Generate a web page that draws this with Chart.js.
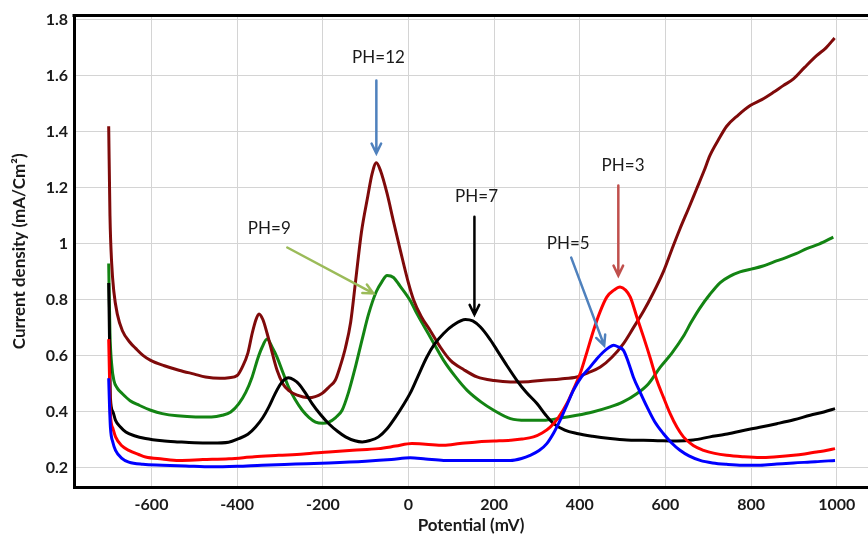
<!DOCTYPE html>
<html>
<head>
<meta charset="utf-8">
<script src="https://cdn.jsdelivr.net/npm/chart.js@4.4.1/dist/chart.umd.min.js"></script>
<style>
  html, body { margin: 0; padding: 0; background: #fff; }
  #wrap { width: 868px; height: 540px; }
</style>
</head>
<body>
<div id="wrap"><canvas id="chart"></canvas></div>
<script>
// Potential (mV) vs current density (mA/cm2)
const ph12X = [-700, -697, -693, -688, -680, -668, -650, -637, -620, -602, -570, -536, -500, -474, -440, -419, -400, -388, -375, -365, -356, -349, -340, -330, -318, -307, -293, -280, -260, -233, -202, -185, -171, -160, -147, -135, -124, -110, -95, -85, -75, -65, -50, -35, -19, 0, 12, 30, 51, 75, 98, 130, 160, 200, 238, 280, 315, 355, 393, 420, 448, 475, 502, 525, 549, 570, 595, 615, 634, 655, 673, 690, 704, 725, 743, 770, 798, 825, 852, 875, 899, 925, 953, 975, 995];
const ph12Y = [1.42, 1.1, 0.93, 0.83, 0.75, 0.69, 0.648, 0.627, 0.602, 0.584, 0.565, 0.549, 0.535, 0.525, 0.52, 0.522, 0.53, 0.56, 0.61, 0.68, 0.73, 0.75, 0.73, 0.68, 0.61, 0.55, 0.5, 0.477, 0.46, 0.451, 0.466, 0.49, 0.513, 0.56, 0.63, 0.72, 0.86, 1.04, 1.17, 1.25, 1.29, 1.26, 1.18, 1.08, 0.977, 0.86, 0.8, 0.74, 0.69, 0.63, 0.584, 0.55, 0.525, 0.512, 0.507, 0.508, 0.513, 0.518, 0.525, 0.54, 0.56, 0.595, 0.644, 0.7, 0.76, 0.82, 0.9, 0.98, 1.054, 1.13, 1.197, 1.26, 1.316, 1.375, 1.42, 1.46, 1.494, 1.515, 1.541, 1.565, 1.589, 1.63, 1.672, 1.7, 1.735];

const ph9X = [-700, -697, -693, -688, -680, -668, -650, -629, -600, -575, -540, -497, -460, -435, -415, -396, -380, -365, -352, -342, -330, -318, -307, -293, -280, -265, -248, -232, -217, -200, -186, -170, -155, -140, -124, -108, -93, -75, -62, -50, -35, -20, 4, 20, 51, 82, 110, 137, 170, 199, 238, 275, 315, 355, 393, 430, 471, 500, 533, 560, 588, 615, 642, 660, 680, 704, 728, 751, 774, 800, 826, 852, 880, 905, 930, 960, 992];
const ph9Y = [0.93, 0.68, 0.57, 0.513, 0.485, 0.465, 0.44, 0.424, 0.405, 0.394, 0.386, 0.382, 0.382, 0.388, 0.4, 0.43, 0.47, 0.525, 0.59, 0.63, 0.66, 0.63, 0.596, 0.54, 0.489, 0.445, 0.406, 0.38, 0.364, 0.36, 0.364, 0.38, 0.406, 0.47, 0.56, 0.66, 0.75, 0.83, 0.865, 0.887, 0.88, 0.85, 0.798, 0.75, 0.667, 0.584, 0.525, 0.477, 0.435, 0.406, 0.376, 0.37, 0.37, 0.378, 0.388, 0.4, 0.418, 0.435, 0.465, 0.5, 0.56, 0.61, 0.67, 0.72, 0.77, 0.82, 0.862, 0.885, 0.9, 0.91, 0.92, 0.935, 0.95, 0.965, 0.983, 1.0, 1.024];

const ph7X = [-700, -698, -696, -690, -684, -672, -660, -640, -614, -575, -536, -500, -458, -420, -396, -375, -357, -340, -326, -313, -303, -290, -280, -268, -256, -240, -225, -205, -186, -165, -147, -125, -108, -90, -70, -50, -31, -12, 5, 20, 43, 60, 82, 105, 133, 150, 168, 190, 207, 230, 253, 275, 300, 320, 339, 365, 393, 430, 471, 510, 549, 590, 627, 665, 704, 740, 782, 820, 860, 900, 938, 970, 996];
const ph7Y = [0.86, 0.65, 0.45, 0.4, 0.37, 0.345, 0.328, 0.315, 0.305, 0.297, 0.293, 0.29, 0.289, 0.292, 0.305, 0.32, 0.346, 0.38, 0.418, 0.46, 0.489, 0.515, 0.522, 0.515, 0.5, 0.466, 0.43, 0.39, 0.358, 0.33, 0.311, 0.297, 0.293, 0.298, 0.311, 0.34, 0.38, 0.425, 0.47, 0.52, 0.596, 0.64, 0.68, 0.71, 0.73, 0.725, 0.703, 0.66, 0.62, 0.565, 0.513, 0.47, 0.43, 0.39, 0.358, 0.335, 0.323, 0.313, 0.305, 0.3, 0.299, 0.297, 0.296, 0.3, 0.311, 0.32, 0.334, 0.345, 0.358, 0.372, 0.388, 0.4, 0.412];

const ph3X = [-700, -698, -696, -690, -684, -670, -653, -630, -614, -575, -536, -480, -419, -360, -303, -245, -186, -130, -70, -30, 8, 40, 82, 120, 160, 200, 238, 265, 292, 312, 331, 350, 370, 385, 401, 416, 432, 448, 463, 480, 494, 507, 518, 533, 549, 565, 580, 596, 611, 627, 642, 665, 689, 715, 743, 780, 821, 860, 899, 925, 953, 975, 996];
const ph3Y = [0.66, 0.52, 0.394, 0.34, 0.311, 0.28, 0.263, 0.248, 0.239, 0.232, 0.227, 0.23, 0.233, 0.24, 0.245, 0.25, 0.257, 0.263, 0.269, 0.278, 0.287, 0.285, 0.281, 0.287, 0.293, 0.296, 0.299, 0.303, 0.311, 0.325, 0.346, 0.38, 0.43, 0.48, 0.537, 0.61, 0.691, 0.76, 0.81, 0.835, 0.846, 0.835, 0.81, 0.74, 0.667, 0.59, 0.513, 0.45, 0.394, 0.345, 0.311, 0.28, 0.263, 0.252, 0.245, 0.24, 0.237, 0.24, 0.245, 0.25, 0.257, 0.262, 0.269];

const ph5X = [-700, -698, -696, -690, -684, -670, -653, -620, -575, -520, -458, -400, -342, -264, -186, -100, -40, 4, 40, 82, 160, 238, 264, 284, 305, 323, 339, 354, 370, 385, 404, 424, 440, 455, 468, 479, 490, 502, 514, 525, 541, 557, 575, 595, 614, 634, 655, 681, 710, 743, 780, 821, 860, 899, 950, 996];
const ph5Y = [0.52, 0.42, 0.346, 0.29, 0.263, 0.235, 0.221, 0.213, 0.21, 0.207, 0.204, 0.206, 0.21, 0.214, 0.218, 0.224, 0.23, 0.236, 0.232, 0.227, 0.227, 0.227, 0.234, 0.245, 0.262, 0.287, 0.325, 0.37, 0.425, 0.477, 0.525, 0.56, 0.59, 0.614, 0.63, 0.638, 0.632, 0.62, 0.575, 0.525, 0.47, 0.418, 0.365, 0.323, 0.29, 0.263, 0.243, 0.227, 0.218, 0.213, 0.21, 0.21, 0.214, 0.218, 0.222, 0.227];

const xTicks = [-600, -400, -200, 0, 200, 400, 600, 800, 1000];
const yTicks = [0.2, 0.4, 0.6, 0.8, 1, 1.2, 1.4, 1.6, 1.8];

const series = [
    { label: 'PH=5', xs: ph5X, ys: ph5Y, color: '#0000ff' },
    { label: 'PH=3', xs: ph3X, ys: ph3Y, color: '#ff0000' },
    { label: 'PH=7', xs: ph7X, ys: ph7Y, color: '#000000' },
    { label: 'PH=12', xs: ph12X, ys: ph12Y, color: '#7f0a0a' },
    { label: 'PH=9', xs: ph9X, ys: ph9Y, color: '#138413' }
];

// callout labels with arrows, in data coordinates
const notes = [
    { text: 'PH=12', at: [-70, 1.665], from: [-75, 1.583], to: [-75, 1.323], color: '#4f81bd' },
    { text: 'PH=9', at: [-325, 1.055], from: [-283, 0.987], to: [-82, 0.823], color: '#9bbb59' },
    { text: 'PH=7', at: [159, 1.169], from: [154, 1.097], to: [154, 0.747], color: '#000000' },
    { text: 'PH=5', at: [373, 1.002], from: [380, 0.951], to: [457, 0.637], color: '#4f81bd' },
    { text: 'PH=3', at: [501, 1.279], from: [490, 1.208], to: [490, 0.887], color: '#c0504d' }
];

const notesPlugin = {
    id: 'notes',
    afterDatasetsDraw(chart) {
        const { ctx, scales: { x, y } } = chart;
        ctx.save();
        notes.forEach(n => {
            const x1 = x.getPixelForValue(n.from[0]), y1 = y.getPixelForValue(n.from[1]);
            const x2 = x.getPixelForValue(n.to[0]), y2 = y.getPixelForValue(n.to[1]);
            const ang = Math.atan2(y2 - y1, x2 - x1);
            ctx.strokeStyle = n.color;
            ctx.lineWidth = 2.5;
            ctx.lineCap = 'round';
            ctx.beginPath();
            ctx.moveTo(x1, y1);
            ctx.lineTo(x2, y2);
            ctx.moveTo(x2 - 11 * Math.cos(ang - 0.45), y2 - 11 * Math.sin(ang - 0.45));
            ctx.lineTo(x2, y2);
            ctx.lineTo(x2 - 11 * Math.cos(ang + 0.45), y2 - 11 * Math.sin(ang + 0.45));
            ctx.stroke();

            ctx.fillStyle = '#1a1a1a';
            ctx.font = '17px Lato';
            ctx.textAlign = 'center';
            ctx.textBaseline = 'middle';
            ctx.fillText(n.text, x.getPixelForValue(n.at[0]), y.getPixelForValue(n.at[1]));
        });
        ctx.restore();
    }
};

// thick frame line along the top of the plot
const topBorder = {
    id: 'topBorder',
    afterDraw(chart) {
        const { ctx, chartArea } = chart;
        ctx.save();
        ctx.strokeStyle = '#000';
        ctx.lineWidth = 3;
        ctx.beginPath();
        ctx.moveTo(chartArea.left - 1.5, chartArea.top);
        ctx.lineTo(chartArea.right, chartArea.top);
        ctx.stroke();
        ctx.restore();
    }
};

const tickFont = { family: 'Lato', size: 16, weight: 'bold' };
const titleFont = { family: 'Lato', size: 17, weight: 'bold' };

new Chart(document.getElementById('chart'), {
    type: 'line',
    data: {
        datasets: series.map(s => ({
            label: s.label,
            data: s.xs.map((v, i) => ({ x: v, y: s.ys[i] })),
            borderColor: s.color,
            backgroundColor: s.color,
            borderWidth: 3,
            pointRadius: 0,
            cubicInterpolationMode: 'monotone',
            fill: false
        }))
    },
    options: {
        responsive: true,
        maintainAspectRatio: false,
        animation: false,
        layout: { padding: { top: 15, right: 0, left: 0, bottom: 0 } },
        plugins: {
            legend: { display: false },
            tooltip: { enabled: false }
        },
        scales: {
            x: {
                type: 'linear',
                min: -781,
                max: 1073,
                afterBuildTicks: axis => { axis.ticks = xTicks.map(v => ({ value: v })); },
                afterFit: axis => { axis.height = 53; },
                grid: { color: '#d4d4d4', lineWidth: 1, drawTicks: false },
                border: { color: '#000', width: 3 },
                ticks: { color: '#1a1a1a', font: tickFont, padding: 8, maxRotation: 0, callback: v => String(v) },
                title: {
                    display: true,
                    text: 'Potential (mV)',
                    color: '#1a1a1a',
                    font: titleFont,
                    padding: { top: 0, bottom: 4 }
                }
            },
            y: {
                type: 'linear',
                min: 0.132,
                max: 1.815,
                afterBuildTicks: axis => { axis.ticks = yTicks.map(v => ({ value: v })); },
                afterFit: axis => { axis.width = 74; },
                grid: { color: '#d4d4d4', lineWidth: 1, drawTicks: false },
                border: { color: '#000', width: 3 },
                ticks: { color: '#1a1a1a', font: tickFont, padding: 6, callback: v => String(v) },
                title: {
                    display: true,
                    text: 'Current density (mA/Cm²)',
                    color: '#1a1a1a',
                    font: titleFont,
                    padding: { top: 9, bottom: 0 }
                }
            }
        }
    },
    plugins: [notesPlugin, topBorder]
});
</script>
</body>
</html>
